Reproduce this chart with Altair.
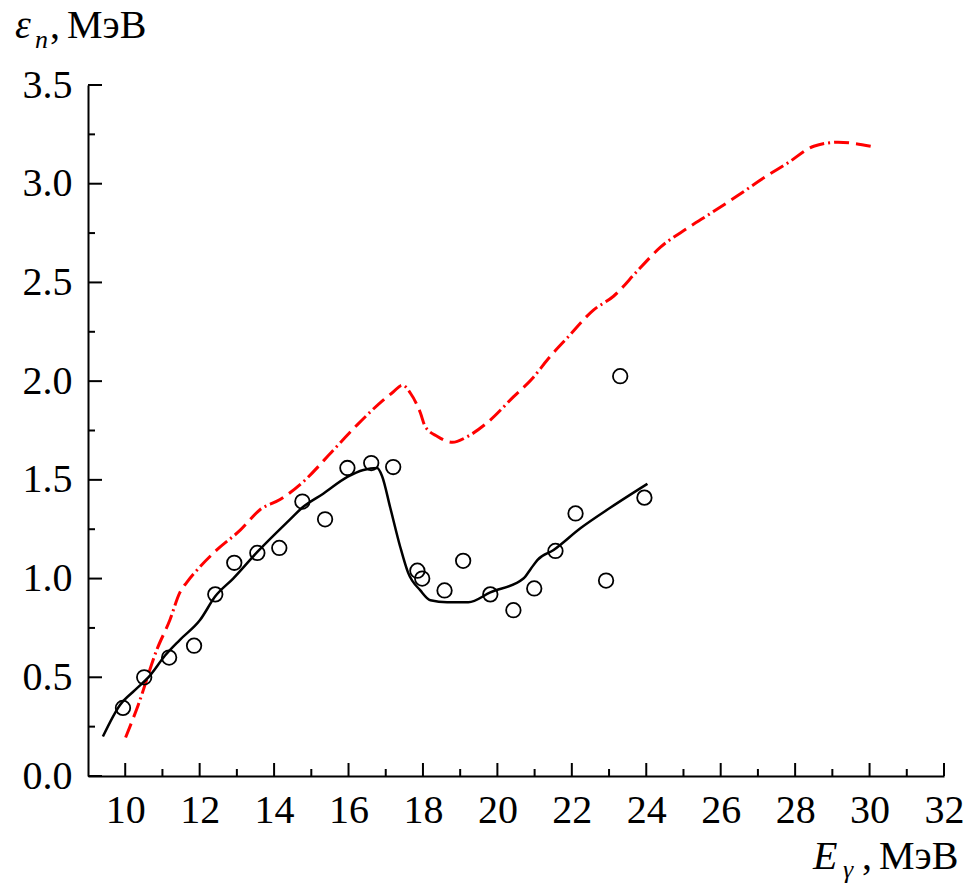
import altair as alt
import pandas as pd

# experimental points (open circles)
circle_x = [9.94, 10.51, 11.18, 11.85, 12.42, 12.93, 13.55, 14.14, 14.76, 15.37, 15.97, 16.61,
            17.20, 17.85, 17.98, 18.58, 19.08, 19.81, 20.43, 20.99, 21.56, 22.10, 22.92, 23.30, 23.95]
circle_y = [0.345, 0.50, 0.60, 0.66, 0.92, 1.08, 1.13, 1.155, 1.39, 1.30, 1.56, 1.585,
            1.565, 1.04, 1.00, 0.94, 1.09, 0.92, 0.84, 0.95, 1.14, 1.33, 0.99, 2.025, 1.41]

# black solid curve
black_x = [9.40, 9.86, 10.26, 10.67, 11.07, 11.47, 12.01, 12.42, 12.90, 13.55, 14.43, 14.76, 15.32,
           15.97, 16.40, 16.77, 16.90, 17.12, 17.39, 17.60, 17.93, 18.20, 18.65, 19.22, 19.81,
           20.70, 20.90, 21.08, 21.51, 22.23, 23.04, 24.03]
black_y = [0.20, 0.36, 0.435, 0.51, 0.61, 0.69, 0.79, 0.91, 1.00, 1.135, 1.30, 1.36, 1.43,
           1.515, 1.55, 1.56, 1.52, 1.36, 1.16, 1.03, 0.94, 0.89, 0.88, 0.88, 0.93,
           1.00, 1.05, 1.095, 1.145, 1.255, 1.36, 1.48]

# red dash-dot curve
red_x = [10.01, 10.35, 10.85, 11.20, 11.47, 11.65, 12.01, 12.46, 13.09, 13.63, 14.16, 14.78, 15.59,
         16.24, 16.94, 17.20, 17.45, 17.66, 17.93, 18.06, 18.39, 18.79, 19.20, 19.73, 20.43, 20.97,
         21.35, 21.88, 22.58, 23.12, 23.77, 24.39, 25.11, 25.73, 26.46, 27.16, 27.80, 28.50, 29.15, 30.03]
red_y = [0.195, 0.36, 0.64, 0.79, 0.93, 0.98, 1.06, 1.145, 1.245, 1.35, 1.40, 1.49, 1.65,
         1.78, 1.905, 1.945, 1.98, 1.94, 1.84, 1.77, 1.72, 1.69, 1.72, 1.79, 1.92, 2.02,
         2.11, 2.22, 2.36, 2.43, 2.56, 2.68, 2.775, 2.85, 2.94, 3.03, 3.105, 3.19, 3.21, 3.19]

x_major = [10, 12, 14, 16, 18, 20, 22, 24, 26, 28, 30, 32]
x_minor = [11, 13, 15, 17, 19, 21, 23, 25, 27, 29, 31]
y_major = [0.0, 0.5, 1.0, 1.5, 2.0, 2.5, 3.0, 3.5]
y_minor = [0.25, 0.75, 1.25, 1.75, 2.25, 2.75, 3.25]

W, H = 856, 691
FONT = "Liberation Serif"
FS = 40

xs = alt.Scale(domain=[9, 32], nice=False, zero=False)
ys = alt.Scale(domain=[0, 3.5], nice=False, zero=False)
xa = alt.Axis(values=x_major, ticks=False, grid=False, title=None, labelFont=FONT, labelFontSize=FS,
              labelColor="black", labelPadding=14, domainColor="black", domainWidth=2, format="d",
              labelFlush=False, labelOverlap=False)
ya = alt.Axis(values=y_major, ticks=False, grid=False, title=None, labelFont=FONT, labelFontSize=FS,
              labelColor="black", labelPadding=16, domainColor="black", domainWidth=2, format=".1f",
              labelFlush=False, labelOverlap=False)

pts = pd.DataFrame({"x": circle_x, "y": circle_y})
blk = pd.DataFrame({"x": black_x, "y": black_y, "i": range(len(black_x))})
red = pd.DataFrame({"x": red_x, "y": red_y, "i": range(len(red_x))})

red_line = alt.Chart(red).mark_line(color="#ff0000", strokeWidth=3, interpolate="monotone",
                                    strokeDash=[15, 7, 15, 4, 2, 4]).encode(
    x=alt.X("x:Q", scale=xs, axis=xa), y=alt.Y("y:Q", scale=ys, axis=ya), order="i:Q")
black_line = alt.Chart(blk).mark_line(color="black", strokeWidth=2.5, interpolate="monotone").encode(
    x=alt.X("x:Q", scale=xs, axis=xa), y=alt.Y("y:Q", scale=ys, axis=ya), order="i:Q")
circles = alt.Chart(pts).mark_point(shape="circle", filled=False, size=210, color="black",
                                    strokeWidth=1.8, opacity=1).encode(
    x=alt.X("x:Q", scale=xs, axis=xa), y=alt.Y("y:Q", scale=ys, axis=ya))

def xticks(vals, length):
    return alt.Chart(pd.DataFrame({"v": vals})).mark_rule(color="black", strokeWidth=2).encode(
        x=alt.X("v:Q", scale=xs, axis=xa), y=alt.value(H), y2=alt.value(H - length))

def yticks(vals, length):
    return alt.Chart(pd.DataFrame({"v": vals})).mark_rule(color="black", strokeWidth=2).encode(
        y=alt.Y("v:Q", scale=ys, axis=ya), x=alt.value(0), x2=alt.value(length))

def label(text, x, y, size=FS, italic=False):
    return alt.Chart(pd.DataFrame({"t": [text]})).mark_text(
        font=FONT, fontSize=size, fontStyle="italic" if italic else "normal", align="left",
        baseline="alphabetic", color="black").encode(
        text="t:N", x=alt.value(x), y=alt.value(y))

titles = [
    label("ε", -73, -47, italic=True),
    label("n", -53, -37, size=26, italic=True),
    label(",", -38, -47),
    label("МэВ", -21, -47),
    label("E", 725, 784, italic=True),
    label("γ", 755, 793, size=26, italic=True),
    label(",", 774, 784),
    label("МэВ", 791, 784),
]

chart = alt.layer(
    red_line, black_line, circles,
    xticks(x_major, 13), xticks(x_minor, 7), yticks(y_major, 14), yticks(y_minor, 7),
    *titles
).properties(
    width=W, height=H,
    autosize=alt.AutoSizeParams(type="none"),
    padding={"left": 88, "top": 85, "right": 29, "bottom": 112},
    background="white",
).configure_view(stroke=None)

chart.save("out.html", embed_options={"renderer": "svg", "actions": False})
